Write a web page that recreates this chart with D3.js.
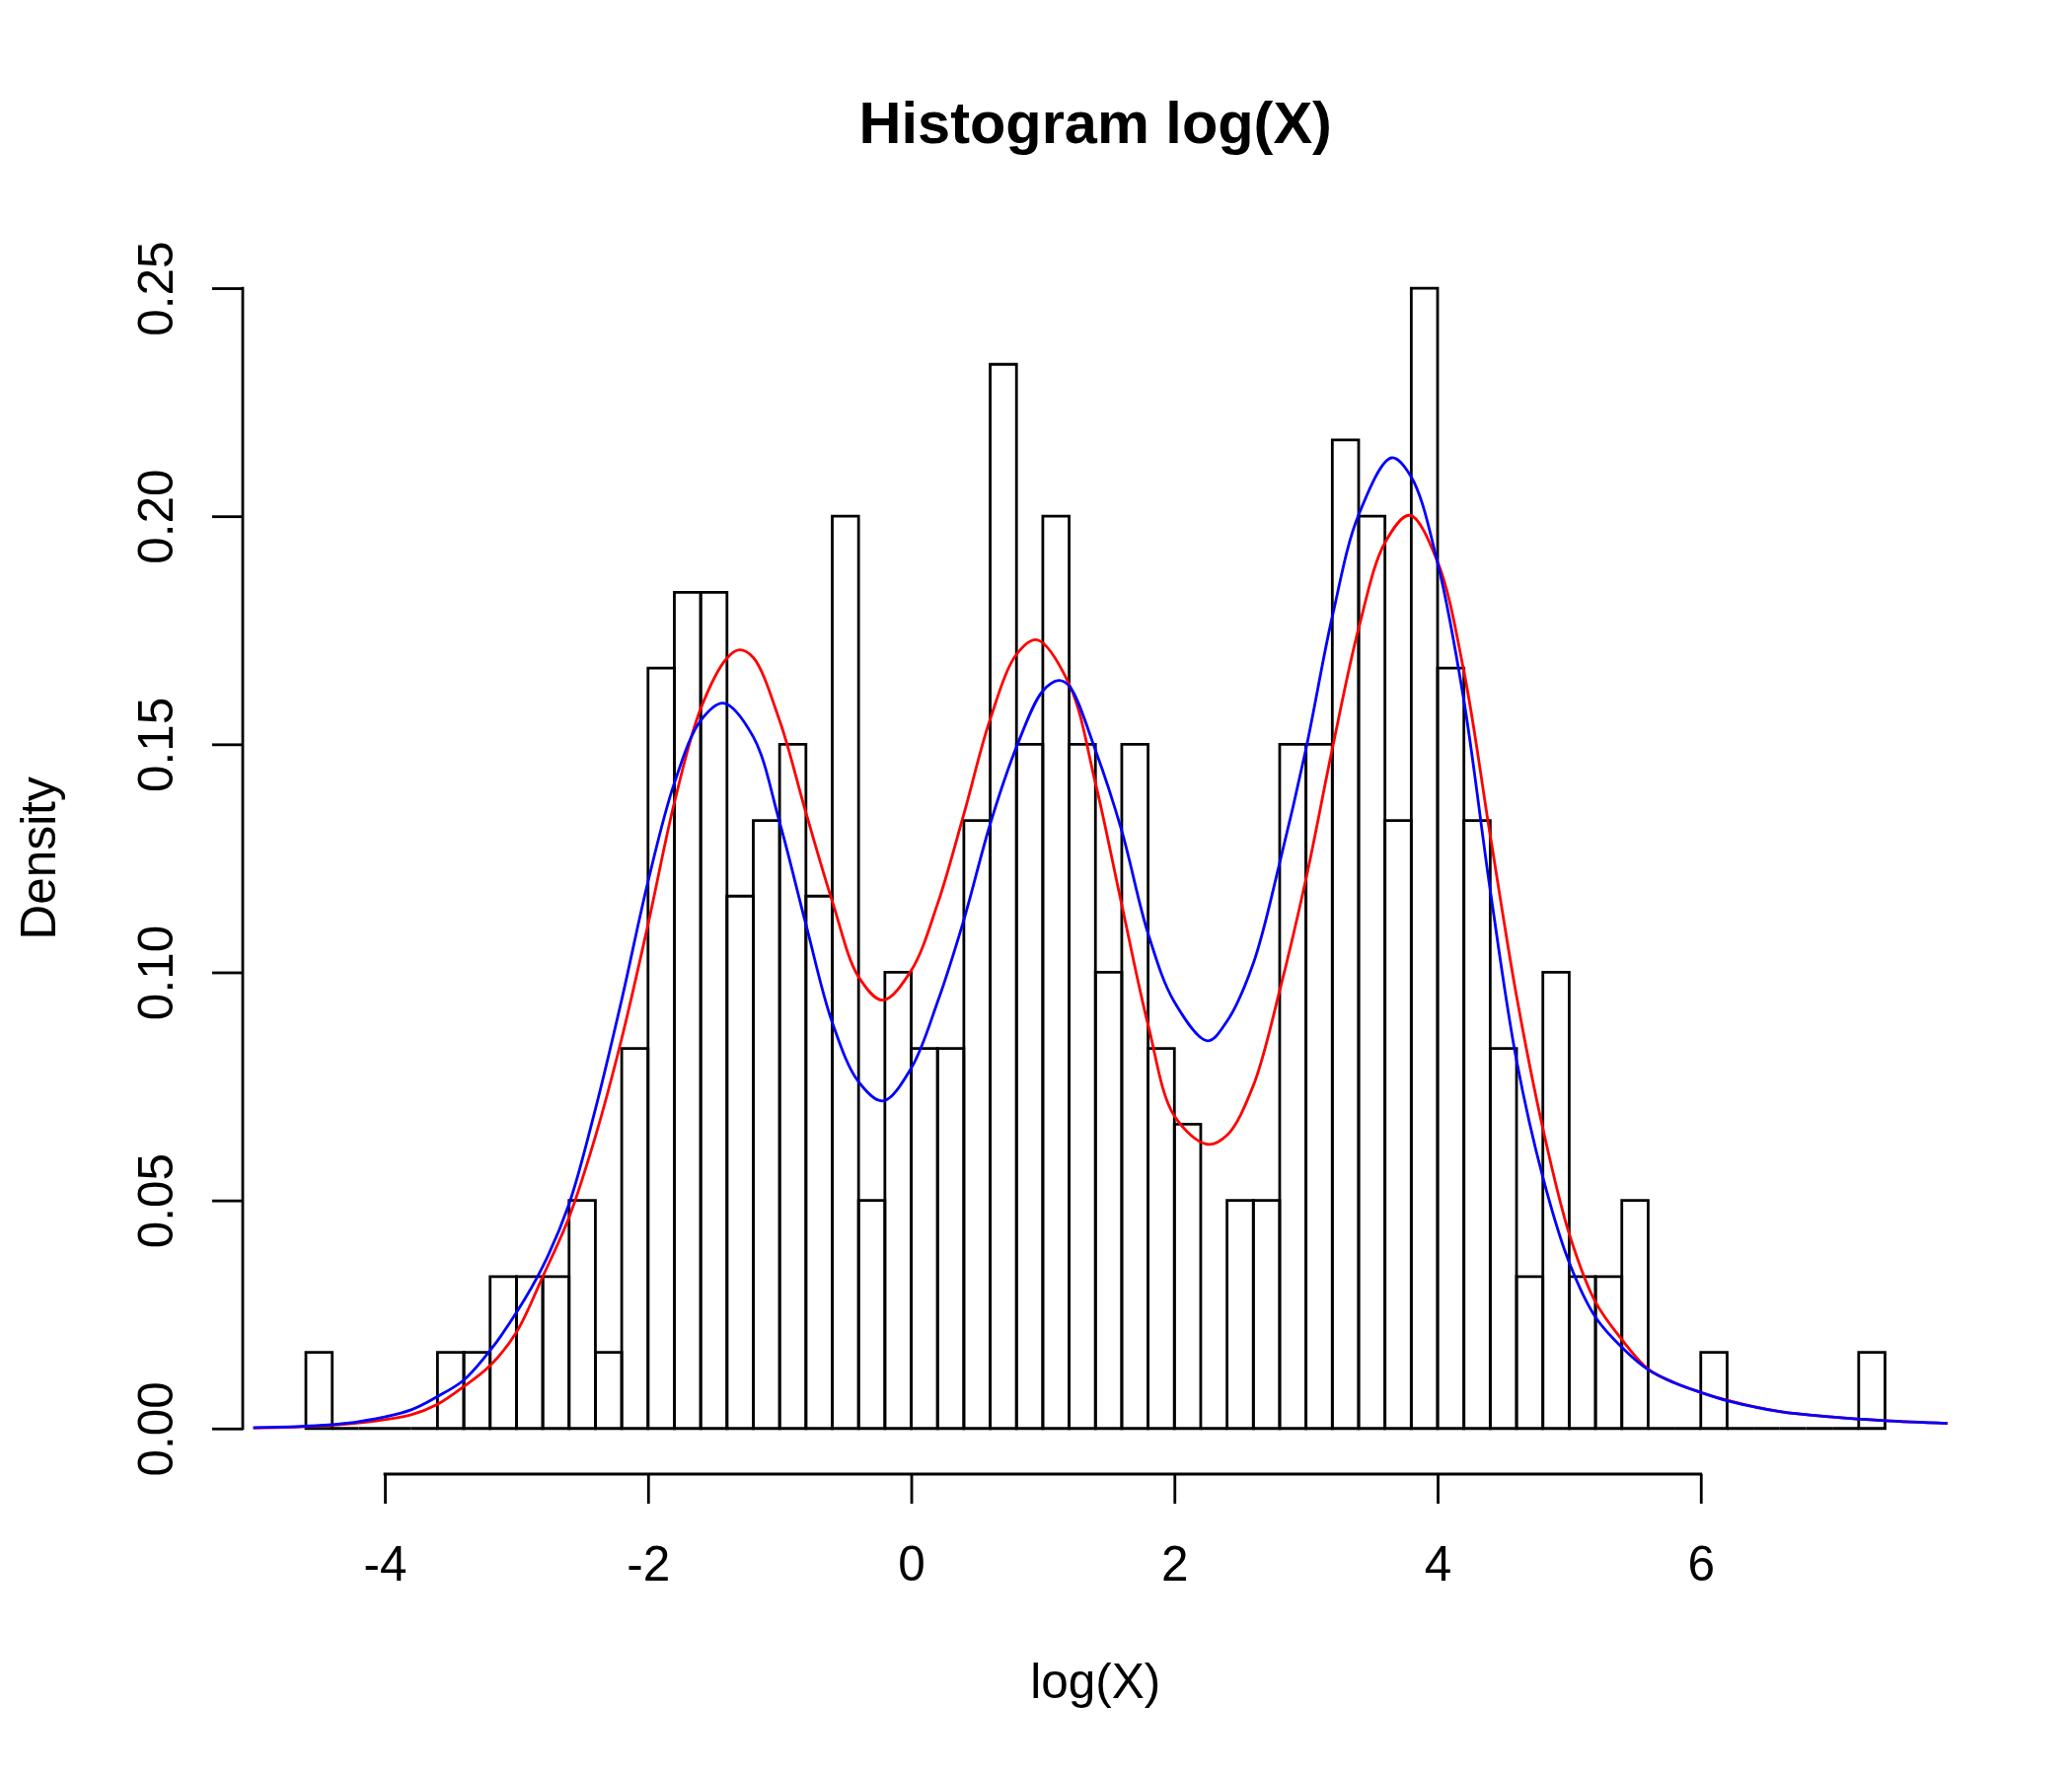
<!DOCTYPE html>
<html>
<head>
<meta charset="utf-8">
<script src="https://cdn.jsdelivr.net/npm/d3@7/dist/d3.min.js"></script>
<style>
  body { margin: 0; background: #ffffff; }
  svg { display: block; }
</style>
</head>
<body>
<div id="chart"></div>
<script>
// histogram bins (left edges) and their densities
var binLefts = [-4.6, -4.4, -4.2, -4.0, -3.8, -3.6, -3.4, -3.2, -3.0, -2.8,
                -2.6, -2.4, -2.2, -2.0, -1.8, -1.6, -1.4, -1.2, -1.0, -0.8,
                -0.6, -0.4, -0.2, 0.0, 0.2, 0.4, 0.6, 0.8, 1.0, 1.2,
                1.4, 1.6, 1.8, 2.0, 2.2, 2.4, 2.6, 2.8, 3.0, 3.2,
                3.4, 3.6, 3.8, 4.0, 4.2, 4.4, 4.6, 4.8, 5.0, 5.2,
                5.4, 5.6, 5.8, 6.0, 6.2, 6.4, 6.6, 6.8, 7.0, 7.2];
var binWidth = 0.2;
var densities = [0.0167, 0, 0, 0, 0, 0.0167, 0.0167, 0.0333, 0.0333, 0.0333,
                 0.05, 0.0167, 0.0833, 0.1667, 0.1833, 0.1833, 0.1167, 0.1333, 0.15, 0.1167,
                 0.2, 0.05, 0.1, 0.0833, 0.0833, 0.1333, 0.2333, 0.15, 0.2, 0.15,
                 0.1, 0.15, 0.0833, 0.0667, 0, 0.05, 0.05, 0.15, 0.15, 0.2167,
                 0.2, 0.1333, 0.25, 0.1667, 0.1333, 0.0833, 0.0333, 0.1, 0.0333, 0.0333,
                 0.05, 0, 0, 0.0167, 0, 0, 0, 0, 0, 0.0167];

// red density curve
var redX = [-5.0, -4.6, -4.2, -3.8, -3.6, -3.4, -3.2, -3.0, -2.8, -2.6,
            -2.4, -2.2, -2.0, -1.8, -1.6, -1.4, -1.305, -1.2, -1.0, -0.8,
            -0.6, -0.4, -0.216, 0.0, 0.2, 0.4, 0.6, 0.8, 0.952, 1.2,
            1.4, 1.6, 1.8, 2.0, 2.251, 2.4, 2.6, 2.8, 3.0, 3.2,
            3.4, 3.6, 3.788, 4.0, 4.2, 4.4, 4.6, 4.8, 5.0, 5.2,
            5.4, 5.6, 5.8, 6.0, 6.2, 6.6, 7.0, 7.4, 7.875];
var redY = [0.0001, 0.0004, 0.0012, 0.0030, 0.0053, 0.0092, 0.0138, 0.0211, 0.0333, 0.0463,
            0.0640, 0.0855, 0.1105, 0.1372, 0.1578, 0.1689, 0.1707, 0.1690, 0.1552, 0.1350,
            0.1156, 0.0990, 0.0939, 0.1004, 0.1150, 0.1347, 0.1555, 0.1697, 0.1729, 0.1632,
            0.1415, 0.1148, 0.0885, 0.0685, 0.0623, 0.0643, 0.0752, 0.0960, 0.1205, 0.1490,
            0.1754, 0.1942, 0.2002, 0.1900, 0.1660, 0.1300, 0.0948, 0.0658, 0.0427, 0.0277,
            0.0195, 0.0130, 0.0100, 0.0079, 0.0062, 0.0037, 0.0025, 0.0017, 0.0011];

// blue density curve
var blueX = [-5.0, -4.6, -4.2, -3.8, -3.6, -3.4, -3.2, -3.0, -2.8, -2.6,
             -2.4, -2.2, -2.0, -1.8, -1.6, -1.428, -1.2, -1.0, -0.8, -0.6,
             -0.4, -0.215, 0.0, 0.2, 0.4, 0.6, 0.8, 1.0, 1.122, 1.2,
             1.4, 1.6, 1.8, 2.0, 2.251, 2.4, 2.6, 2.8, 3.0, 3.2,
             3.4, 3.651, 3.8, 4.0, 4.2, 4.4, 4.6, 4.8, 5.0, 5.2,
             5.4, 5.6, 5.8, 6.0, 6.2, 6.6, 7.0, 7.4, 7.875];
var blueY = [0.0002, 0.0005, 0.0015, 0.0041, 0.0070, 0.0106, 0.0171, 0.0254, 0.0355, 0.0492,
             0.0700, 0.0940, 0.1199, 0.1415, 0.1552, 0.1590, 0.1516, 0.1329, 0.1105, 0.0890,
             0.0760, 0.0718, 0.0790, 0.0935, 0.1115, 0.1325, 0.1494, 0.1617, 0.1640, 0.1628,
             0.1487, 0.1310, 0.1085, 0.0935, 0.0850, 0.0893, 0.1020, 0.1240, 0.1490, 0.1780,
             0.2003, 0.2128, 0.2086, 0.1898, 0.1596, 0.1180, 0.0807, 0.0551, 0.0364, 0.0244,
             0.0178, 0.0129, 0.0100, 0.0079, 0.0061, 0.0037, 0.0025, 0.0017, 0.0011];

var xTicks = [-4, -2, 0, 2, 4, 6];
var yTicks = [0, 0.05, 0.10, 0.15, 0.20, 0.25];
var yTickLabels = ["0.00", "0.05", "0.10", "0.15", "0.20", "0.25"];

var width = 2100, height = 1800;
var plot = {left: 246, right: 1974.5, top: 245.8, bottom: 1494};
var font = "'Liberation Sans', Arial, Helvetica, sans-serif";
var fontSize = 49.5;
var lw = 2.8;

var svg = d3.select("#chart").append("svg")
    .attr("width", width)
    .attr("height", height)
    .style("background", "#ffffff");

var x = d3.scaleLinear().domain([-5.08, 7.88]).range([plot.left, plot.right]);
var y = d3.scaleLinear().domain([-0.01, 0.26]).range([plot.bottom, plot.top]);

svg.append("clipPath").attr("id", "plot-clip")
  .append("rect")
    .attr("x", plot.left)
    .attr("y", plot.top)
    .attr("width", plot.right - plot.left)
    .attr("height", plot.bottom - plot.top);

// bars, drawn as closed paths so empty bins still leave their baseline
svg.append("g").attr("class", "bars")
  .selectAll("path")
  .data(densities).enter()
  .append("path")
    .attr("d", function(d, i){
        var x0 = x(binLefts[i]), x1 = x(binLefts[i] + binWidth);
        var y0 = y(0), y1 = y(d);
        return "M" + x0 + "," + y0 + "V" + y1 + "H" + x1 + "V" + y0 + "Z";
    })
    .attr("fill", "none")
    .attr("stroke", "#000000")
    .attr("stroke-width", lw)
    .attr("stroke-linejoin", "miter");

// curves
var line = d3.line()
    .x(function(d){ return x(d[0]); })
    .y(function(d){ return y(d[1]); })
    .curve(d3.curveCatmullRom.alpha(0.5));

var curves = svg.append("g").attr("clip-path", "url(#plot-clip)");
curves.append("path")
    .datum(redX.map(function(v, i){ return [v, redY[i]]; }))
    .attr("d", line)
    .attr("fill", "none")
    .attr("stroke", "#ff0000")
    .attr("stroke-width", lw);
curves.append("path")
    .datum(blueX.map(function(v, i){ return [v, blueY[i]]; }))
    .attr("d", line)
    .attr("fill", "none")
    .attr("stroke", "#0000ff")
    .attr("stroke-width", lw);

// x axis
var xAxis = d3.axisBottom(x).tickValues(xTicks).tickSize(30).tickFormat(d3.format("d"));
var gx = svg.append("g")
    .attr("transform", "translate(0," + plot.bottom + ")")
    .call(xAxis);
gx.select(".domain").remove();
gx.append("line")
    .attr("x1", x(xTicks[0]))
    .attr("x2", x(xTicks[xTicks.length - 1]))
    .attr("stroke", "#000000")
    .attr("stroke-width", lw)
    .attr("stroke-linecap", "square");
gx.selectAll(".tick line").attr("stroke-width", lw);
gx.selectAll(".tick text")
    .attr("y", 108)
    .attr("dy", null)
    .text(function(d){ return d < 0 ? "-" + Math.abs(d) : d; })
    .style("font-family", font)
    .style("font-size", fontSize + "px")
    .attr("fill", "#000000");

// y axis
var yAxis = d3.axisLeft(y).tickValues(yTicks).tickSize(31)
    .tickFormat(function(d, i){ return yTickLabels[i]; });
var gy = svg.append("g")
    .attr("transform", "translate(" + plot.left + ",0)")
    .call(yAxis);
gy.select(".domain").remove();
gy.append("line")
    .attr("y1", y(yTicks[0]))
    .attr("y2", y(yTicks[yTicks.length - 1]))
    .attr("stroke", "#000000")
    .attr("stroke-width", lw)
    .attr("stroke-linecap", "square");
gy.selectAll(".tick line").attr("stroke-width", lw);
gy.selectAll(".tick text")
    .attr("x", 0)
    .attr("y", 0)
    .attr("dy", null)
    .attr("transform", "translate(-71,0) rotate(-90)")
    .attr("text-anchor", "middle")
    .style("font-family", font)
    .style("font-size", fontSize + "px")
    .attr("fill", "#000000");

// titles
var midX = (plot.left + plot.right) / 2;
svg.append("text")
    .text("Histogram log(X)")
    .attr("x", midX)
    .attr("y", 145)
    .attr("text-anchor", "middle")
    .style("font-family", font)
    .style("font-weight", "bold")
    .style("font-size", "59.5px");
svg.append("text")
    .text("log(X)")
    .attr("x", midX)
    .attr("y", 1721)
    .attr("text-anchor", "middle")
    .style("font-family", font)
    .style("font-size", fontSize + "px");
svg.append("text")
    .text("Density")
    .attr("transform", "translate(56," + (plot.top + plot.bottom) / 2 + ") rotate(-90)")
    .attr("text-anchor", "middle")
    .style("font-family", font)
    .style("font-size", fontSize + "px");
</script>
</body>
</html>
